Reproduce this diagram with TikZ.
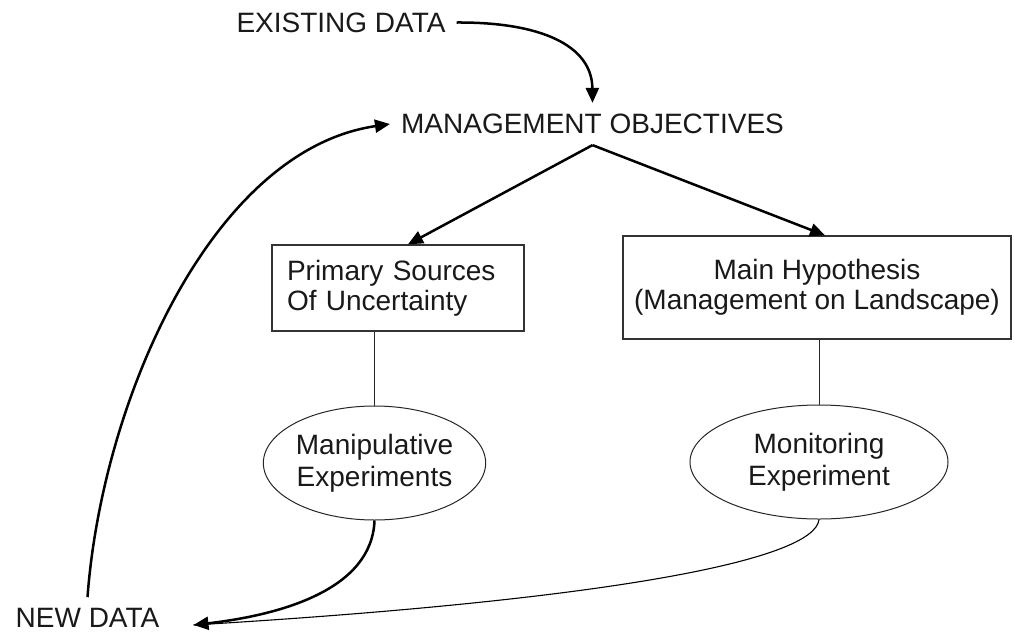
\documentclass[tikz,border=0pt]{standalone}
\usepackage{fontspec}
\setmainfont{Liberation Sans}
\usetikzlibrary{arrows.meta,shapes.geometric}

\begin{document}
\begin{tikzpicture}[x=1pt,y=-1pt,
  lbl/.style={font=\fontsize{28}{30}\selectfont, inner sep=11pt, text=black!90},
  box/.style={draw=black!80, line width=1.3pt, font=\fontsize{28}{30}\selectfont, text=black!90},
  oval/.style={ellipse, draw=black!85, line width=1pt, inner sep=0pt, align=center,
               font=\fontsize{28}{32}\selectfont, text=black!90},
  arr/.style={line width=2.5pt, -{Triangle[length=15pt,width=13pt]}},
  link/.style={line width=1pt, draw=black!85},
  feed/.style={line width=1.1pt}]
  \useasboundingbox (0,0) rectangle (1014,632);

  % labels
  \node[lbl] (ex) at (341,22.5) {EXISTING DATA};
  \node[lbl] (mo) at (592.5,124) {MANAGEMENT OBJECTIVES};
  \node[lbl, inner xsep=34pt] (nd) at (87.5,618) {NEW DATA};

  % boxes
  \node[box, text width=222pt, inner xsep=15pt, minimum height=86pt, align=left] (src) at (398,288)
    {Primary Sources\\Of Uncertainty};
  \node[box, minimum width=388pt, minimum height=103pt, align=center] (hyp) at (817,287.5)
    {Main Hypothesis\\(Management on Landscape)};

  % experiments
  \node[oval, minimum width=213pt, minimum height=114pt] (me) at (374.5,463)
    {Manipulative\\Experiments};
  \node[oval, minimum width=258pt, minimum height=114pt] (mon) at (819,462)
    {Monitoring\\Experiment};

  % objectives flow
  \draw[arr] (ex.east) .. controls (540,22) and (592,45) .. (mo.north);
  \draw[arr] (mo.south) -- ([xshift=10pt]src.north);
  \draw[arr] (mo.south) -- ([xshift=8pt]hyp.north);

  % boxes to experiments
  \draw[link] (me.north) -- (me.north |- src.south);
  \draw[link] (mon.north) -- (mon.north |- hyp.south);

  % results back to new data
  \draw[arr] (me.south) .. controls (372,590) and (280,615) .. ([yshift=-7pt]nd.east);
  \draw[feed] (mon.south) .. controls (815,560) and (610,600) .. ([yshift=-7pt]nd.east);

  % new data feeds objectives
  \draw[arr] (nd.north) .. controls (102,400) and (212,150) .. (mo.west);
\end{tikzpicture}
\end{document}
